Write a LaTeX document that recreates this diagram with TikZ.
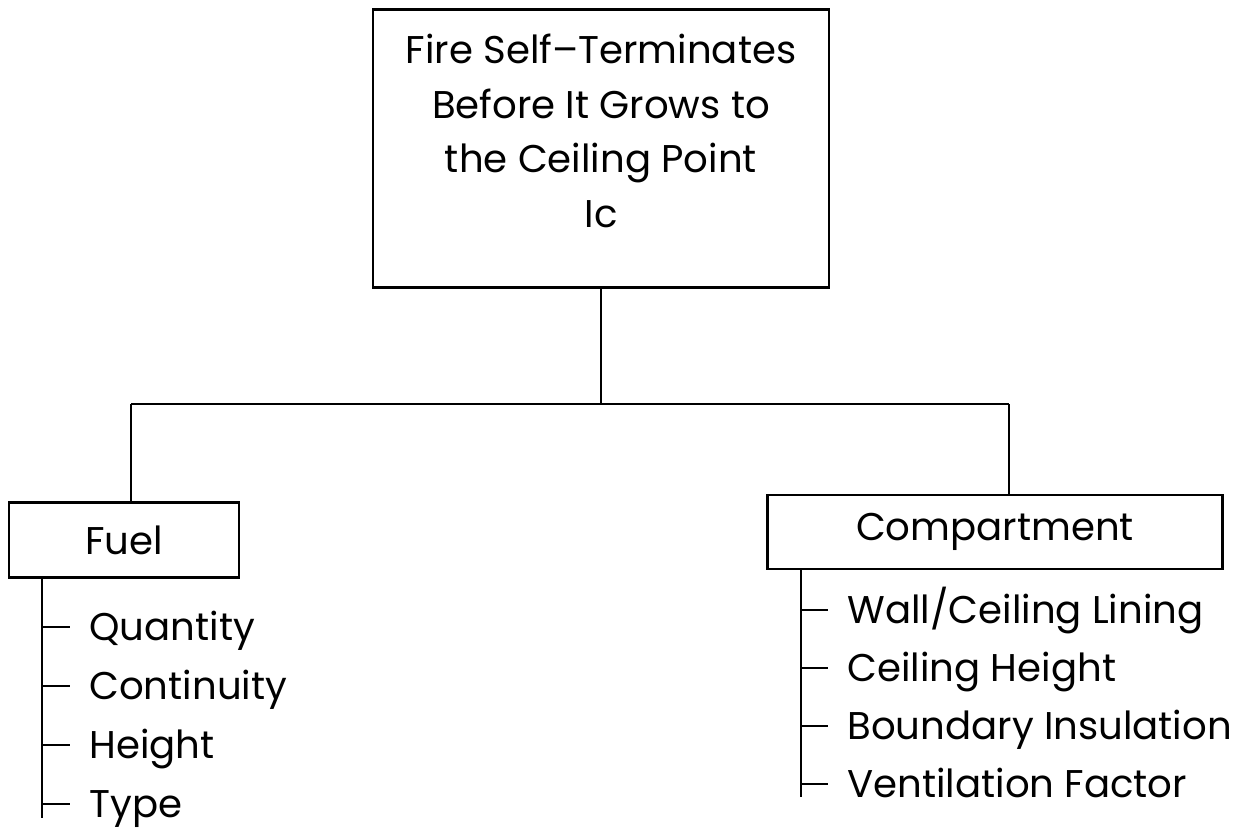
\documentclass[tikz,border=0pt]{standalone}
\usepackage{fontspec}
\setmainfont{Poppins}
\usetikzlibrary{positioning}

\begin{document}
\begin{tikzpicture}[
  x=0.02cm, y=-0.02cm,
  line width=1.6pt,
  box/.style={draw, minimum height=1.5cm, inner sep=0pt,
              font=\fontsize{22}{31}\selectfont},
  item/.style={anchor=west, inner sep=0pt, text height=0.54cm,
               text depth=0pt, font=\fontsize{22}{26}\selectfont},
  tick/.style={shorten >=0.36cm},
]
\useasboundingbox (0,0) rectangle (1254,832);
%% Top: the event
\node[box, align=center, anchor=north, minimum width=9.12cm, inner ysep=0.5cm] (fire) at (601,8)
  {Fire Self--Terminates\\Before It Grows to\\the Ceiling Point\\Ic\rule[-0.7cm]{0pt}{0pt}};
%% Branch line
\coordinate (lj) at (131,404);
\coordinate (rj) at (1009,404);
\draw (fire.south) -- (fire.south |- lj);
\draw (lj) -- (rj);
%% Left: fuel
\node[box, minimum width=4.6cm] (fuel) at (124,540) {Fuel};
\draw (lj) -- (lj |- fuel.north);
\coordinate (fbot) at (42,818);
\draw (fbot |- fuel.south) -- (fbot);
\node[item] (qty) at (88,627) {Quantity};
\node[item] (cont) at (88,686) {Continuity};
\node[item] (hgt) at (88,745) {Height};
\node[item] (typ) at (88,804) {Type};
\draw[tick] (fbot |- qty.west) -- (qty.west);
\draw[tick] (fbot |- cont.west) -- (cont.west);
\draw[tick] (fbot |- hgt.west) -- (hgt.west);
\draw[tick] (fbot |- typ.west) -- (typ.west);
%% Right: compartment
\node[box, minimum width=9.1cm, minimum height=1.48cm] (comp) at (995,532) {Compartment};
\draw (rj) -- (rj |- comp.north);
\coordinate (cbot) at (801,797);
\draw (cbot |- comp.south) -- (cbot);
\node[item] (wall) at (846,610) {Wall/Ceiling Lining};
\node[item] (ceil) at (846,668) {Ceiling Height};
\node[item] (bnd) at (846,726) {Boundary Insulation};
\node[item] (vent) at (846,784) {Ventilation Factor};
\draw[tick] (cbot |- wall.west) -- (wall.west);
\draw[tick] (cbot |- ceil.west) -- (ceil.west);
\draw[tick] (cbot |- bnd.west) -- (bnd.west);
\draw[tick] (cbot |- vent.west) -- (vent.west);
\end{tikzpicture}
\end{document}
